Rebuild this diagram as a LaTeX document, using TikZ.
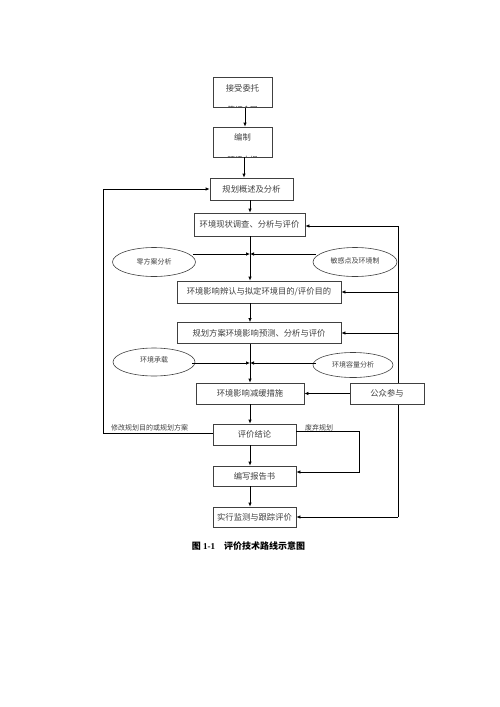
\documentclass[tikz,border=0pt]{standalone}
\usepackage{fontspec}
\setmainfont{Liberation Serif}
\newfontfamily\cjk{Noto Sans CJK SC}
\usetikzlibrary{shapes.geometric,arrows.meta}
\begin{document}
\begin{tikzpicture}[x=1pt,y=-1pt,
  boxst/.style={draw=black!75,fill=white,line width=0.7pt,rectangle,inner sep=0pt,font=\cjk\fontsize{8.3}{10}\selectfont,text=black!75},
  ellst/.style={draw=black!75,line width=0.6pt,ellipse,inner sep=0pt,font=\cjk\fontsize{7}{8}\selectfont,text=black!75},
  lab/.style={font=\cjk\fontsize{7}{8}\selectfont,text=black!75,inner sep=1pt},
  conn/.style={line width=0.7pt,draw=black},
  arr/.style={conn,-{Latex[length=4pt,width=3.5pt]}}]
\useasboundingbox (0,0) rectangle (500,707);
% right bus (under boxes)
\coordinate (r0) at (398,226);
\coordinate (r1) at (398,517);
\draw[conn] (r0) -- (r1);
% boxes
\node[boxst,minimum width=59pt,minimum height=30pt] (b1) at (242.5,92.5) {};
\node[boxst,minimum width=59pt,minimum height=30pt] (b2) at (242.5,142) {};
\node[font=\cjk\fontsize{8.3}{10}\selectfont,text=black!75] (t1) at (242.5,88) {接受委托};
\node[font=\cjk\fontsize{8.3}{10}\selectfont,text=black!75] (t2) at (242.5,137.5) {编制};
\begin{scope}
\clip (213,77) rectangle (272,107.3);
\node[font=\cjk\fontsize{7.5}{8}\selectfont,text=black!75] (t1b) at (242.5,109.3) {签订合同};
\end{scope}
\begin{scope}
\clip (213,127) rectangle (272,156.8);
\node[font=\cjk\fontsize{7.5}{8}\selectfont,text=black!75] (t2b) at (242.5,159.3) {环评大纲};
\end{scope}
\node[boxst,minimum width=83pt,minimum height=22pt] (b3) at (251.5,189) {规划概述及分析};
\node[boxst,minimum width=111pt,minimum height=23pt] (b4) at (249.5,224.5) {环境现状调查、分析与评价};
\node[ellst,minimum width=83pt,minimum height=29pt] (e1) at (154,262) {零方案分析};
\node[ellst,minimum width=84pt,minimum height=29pt] (e2) at (355,262) {\raisebox{3pt}{敏感点及环境制}};
\node[boxst,minimum width=164pt,minimum height=22pt] (b5) at (259,292) {环境影响辨认与拟定环境目的/评价目的};
\node[boxst,minimum width=164pt,minimum height=21pt] (b6) at (259,333) {规划方案环境影响预测、分析与评价};
\node[ellst,minimum width=82pt,minimum height=28pt] (e3) at (154,362) {\raisebox{4pt}{环境承载}};
\node[ellst,minimum width=80pt,minimum height=25pt] (e4) at (353,365) {环境容量分析};
\node[boxst,minimum width=108pt,minimum height=21pt] (b7) at (250,393.5) {环境影响减缓措施};
\node[boxst,minimum width=74pt,minimum height=21pt] (pub) at (387,393.5) {公众参与};
\node[boxst,minimum width=83pt,minimum height=21pt] (b8) at (254.5,434.5) {评价结论};
\node[boxst,minimum width=83pt,minimum height=20pt] (b9) at (254.5,476) {编写报告书};
\node[boxst,minimum width=83pt,minimum height=20pt] (b10) at (254.5,517) {实行监测与跟踪评价};
% labels
\node[lab,anchor=south west] (l1) at (110,432) {修改规划目的或规划方案};
\node[lab,anchor=south west] (l2) at (304,432) {废弃规划};
\node[font=\cjk\bfseries\fontsize{9}{10}\selectfont] (cap) at (248.5,546) {图 {\rmfamily\bfseries 1-1}\quad 评价技术路线示意图};
% main spine
\draw[arr] (b1.south -| 245,0) -- (b2.north -| 245,0);
\draw[arr] (b2.south -| 244,0) -- (b3.north -| 244,0);
\draw[arr] (b3.south -| 250,0) -- (b4.north -| 250,0);
\draw[arr] (b4.south -| 250,0) -- (b5.north -| 250,0);
\draw[arr] (b5.south -| 250,0) -- (b6.north -| 250,0);
\draw[arr] (b6.south -| 250,0) -- (b7.north -| 250,0);
\draw[arr] (b7.south -| 250,0) -- (b8.north -| 250,0);
\draw[arr] (b8.south -| 250,0) -- (b9.north -| 250,0);
\draw[arr] (b9.south -| 250,0) -- (b10.north -| 250,0);
% ellipse inputs
\coordinate (m1) at (250,254);
\coordinate (m2) at (250,363);
\draw[arr] (e1.east |- m1) ++(-3,0) -- (m1);
\draw[arr] (e2.west |- m1) ++(3,0) -- (m1);
\draw[arr] (e3.east |- m2) ++(-3,0) -- (m2);
\draw[arr] (e4.west |- m2) ++(3,0) -- (m2);
% right bus arrows
\draw[arr] (r0) -- (b4.east |- r0);
\draw[arr] (398,292) -- (b5.east |- 0,292);
\draw[arr] (398,333) -- (b6.east |- 0,333);
\draw[arr] (r1) -- (b10.east |- r1);
\draw[arr] (pub.west) -- (b7.east);
% feedback
\coordinate (f1) at (103,433);
\coordinate (f2) at (103,189);
\draw[arr] (b8.west |- f1) -- (f1) -- (f2) -- (b3.west);
\coordinate (g1) at (359,431);
\coordinate (g2) at (359,472);
\draw[arr] (b8.east |- g1) -- (g1) -- (g2) -- (b9.east |- g2);
\end{tikzpicture}
\end{document}
